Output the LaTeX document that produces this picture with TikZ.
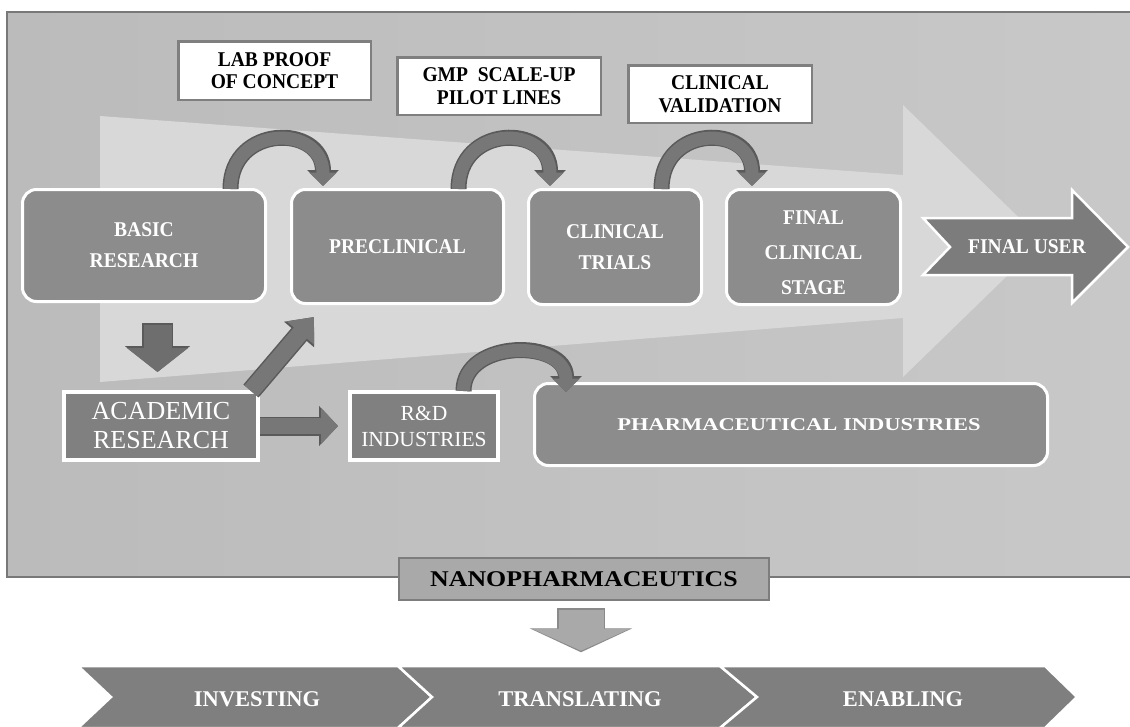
\documentclass[tikz,border=0pt]{standalone}
\usepackage{fontspec}
\setmainfont{Liberation Serif}
\newfontfamily\widefont[FakeStretch=1.25]{Liberation Serif}
\newfontfamily\nanofont[FakeStretch=1.15]{Liberation Serif}
\newfontfamily\condfont[FakeStretch=0.93]{Liberation Serif}
\usetikzlibrary{arrows.meta,calc}
\definecolor{panelL}{HTML}{BBBBBB}
\definecolor{panelR}{HTML}{C8C8C8}
\definecolor{panelB}{HTML}{787878}
\definecolor{bandc}{HTML}{D8D8D8}
\definecolor{stagefill}{HTML}{8C8C8C}
\definecolor{userfill}{HTML}{7C7C7C}
\definecolor{sqfill}{HTML}{808080}
\definecolor{labelB}{HTML}{7F7F7F}
\definecolor{arcdark}{HTML}{5A5A5A}
\definecolor{arcfill}{HTML}{777777}
\definecolor{downfill}{HTML}{6E6E6E}
\definecolor{chevfill}{HTML}{7F7F7F}
\definecolor{nanofill}{HTML}{A9A9A9}
\definecolor{nanoB}{HTML}{7D7D7D}
\definecolor{nanoarrB}{HTML}{8A8A8A}
\begin{document}
\begin{tikzpicture}[x=1pt,y=-1pt,
  stagebox/.style={draw=white, line width=3pt, fill=stagefill, rounded corners=14pt, text=white,
    font=\fontsize{21}{31}\selectfont\condfont\bfseries, align=center, inner sep=0pt},
  labelbox/.style={draw=labelB, line width=2.5pt, fill=white, text=black,
    font=\fontsize{21}{22.5}\selectfont\condfont\bfseries, align=center, inner sep=0pt},
  sqbox/.style={draw=white, line width=4pt, fill=sqfill, text=white, align=center, inner sep=0pt},
  arcout/.style={draw=arcdark, line width=16pt, -{Triangle[width=31pt,length=16pt]}},
  arcin/.style={draw=arcfill, line width=13pt, -{Triangle[width=27pt,length=13.5pt]}},
  chev/.style={fill=chevfill, draw=white, line width=2.5pt, line join=miter},
  chevtext/.style={text=white, font=\fontsize{22.5}{26}\selectfont\bfseries, inner sep=0pt}
]
\useasboundingbox (0,0) rectangle (1130,726);
\fill[white] (0,0) rectangle (1130,726);
% panel
\shade[left color=panelL, right color=panelR] (7,12) rectangle (1134,577);
\draw[panelB, line width=2pt] (1134,12) -- (7,12) -- (7,577) -- (1134,577);
% light band arrow
\fill[bandc] (100,116) -- (903,175) -- (903,105) -- (1043,241) -- (903,377) -- (903,318) -- (100,382) -- cycle;
% final user arrow
\fill[userfill, draw=white, line width=2.5pt] (923,218) -- (1072,218) -- (1072,190) -- (1128,247) -- (1072,303) -- (1072,275) -- (923,275) -- (950,247) -- cycle;
\node[text=white, font=\fontsize{21}{22}\selectfont\condfont\bfseries, inner sep=0pt] (finaluser) at (1027,247) {FINAL USER};

% label boxes
\node[labelbox, minimum width=192.5pt, minimum height=58.5pt] (lab) at (274.5,70.5) {LAB PROOF\\OF CONCEPT};
\node[labelbox, minimum width=203.5pt, minimum height=57.5pt] (gmp) at (499,86) {GMP\ \ SCALE-UP\\PILOT LINES};
\node[labelbox, minimum width=183.5pt, minimum height=57.5pt] (clinval) at (720,94) {CLINICAL\\VALIDATION};

% stage boxes
\node[stagebox, minimum width=243pt, minimum height=112pt] (basic) at (144,245.5) {BASIC\\RESEARCH};
\node[stagebox, minimum width=212pt, minimum height=114pt] (preclin) at (397.5,246.5) {PRECLINICAL};
\node[stagebox, minimum width=173pt, minimum height=115pt] (trials) at (615,247) {CLINICAL\\TRIALS};
\node[stagebox, minimum width=174pt, minimum height=115pt, font=\fontsize{21}{35}\selectfont\condfont\bfseries] (finalstage) at (813.5,247) {\rule{0pt}{26pt}FINAL\\CLINICAL\\STAGE};

% lower boxes
\node[sqbox, minimum width=194pt, minimum height=68pt, font=\fontsize{26}{29}\selectfont] (academic) at (161,426) {ACADEMIC\\RESEARCH};
\node[sqbox, minimum width=148pt, minimum height=68pt, font=\fontsize{21.5}{26}\selectfont] (rnd) at (424,426) {R\&D\\INDUSTRIES};
\node[stagebox, minimum width=513pt, minimum height=82pt, font=\fontsize{18}{22}\selectfont\widefont\bfseries] (pharma) at (791,424.5) {\hspace*{16pt}PHARMACEUTICAL INDUSTRIES};

% curved arrows
\foreach \s in {arcout,arcin}{
  \draw[\s] ($(basic.north east)+(-36.5,1)$) .. controls +(0,-65) and +(0,-62) .. ($(preclin.north west)+(33,-2)$);
  \draw[\s] ($(preclin.north east)+(-46.5,1)$) .. controls +(0,-65) and +(0,-62) .. ($(trials.north west)+(23,-2)$);
  \draw[\s] ($(trials.north east)+(-41.5,1)$) .. controls +(0,-65) and +(0,-62) .. ($(finalstage.north west)+(27,-2)$);
  \draw[\s] ($(rnd.north east)+(-36.5,1)$) .. controls +(0,-52) and +(0,-53) .. ($(pharma.north west)+(33,10)$);
}

% block arrows
\draw[draw=arcdark, line width=31pt, -{Triangle[width=64pt,length=26pt]}] ($(basic.south)+(13.5,20)$) -- ($(academic.north)+(-3.5,-18)$);
\draw[draw=downfill, line width=28pt, -{Triangle[width=60pt,length=24pt]}] ($(basic.south)+(13.5,21.5)$) -- ($(academic.north)+(-3.5,-18)$);
\foreach \c/\w/\tw/\tl in {arcdark/20pt/38pt/23pt, arcfill/17pt/34.5pt/21pt}{
  \draw[draw=\c, line width=\w, -{Triangle[width=\tw,length=\tl]}] ($(academic.north east)+(-9,1)$) -- ($(preclin.south west)+(24,12)$);
}
\foreach \c/\w/\tw/\tl in {arcdark/19pt/39pt/19pt, arcfill/16pt/35.5pt/17pt}{
  \draw[draw=\c, line width=\w, -{Triangle[width=\tw,length=\tl]}] (academic.east) -- ($(rnd.west)+(-10,0)$);
}

% chevrons
\fill[chev] (78,666) -- (398,666) -- (432,697) -- (398,728) -- (78,728) -- (111,697) -- cycle;
\fill[chev] (398,666) -- (720,666) -- (757,697) -- (720,728) -- (398,728) -- (432,697) -- cycle;
\fill[chev] (720,666) -- (1045,666) -- (1077,697) -- (1045,728) -- (720,728) -- (757,697) -- cycle;
\node[chevtext] (investing) at (257,699) {INVESTING};
\node[chevtext] (translating) at (580,699) {TRANSLATING};
\node[chevtext] (enabling) at (903,699) {ENABLING};

% nanopharmaceutics
\node[draw=nanoB, line width=2pt, fill=nanofill, minimum width=370pt, minimum height=42pt, inner sep=0pt,
  font=\fontsize{22.5}{26}\selectfont\nanofont\bfseries] (nano) at (584,579) {NANOPHARMACEUTICS};
\coordinate (nanotip) at ($(nano.south)!1!(nano.south |- translating.north)$);
\draw[draw=nanoarrB, line width=48pt, -{Triangle[width=102pt,length=24pt]}] ($(nano.south)+(-3,7)$) -- ($(nanotip)+(-3,-39)$);
\draw[draw=nanofill, line width=45pt, -{Triangle[width=97pt,length=22pt]}] ($(nano.south)+(-3,8.5)$) -- ($(nanotip)+(-3,-40.5)$);
\end{tikzpicture}
\end{document}
